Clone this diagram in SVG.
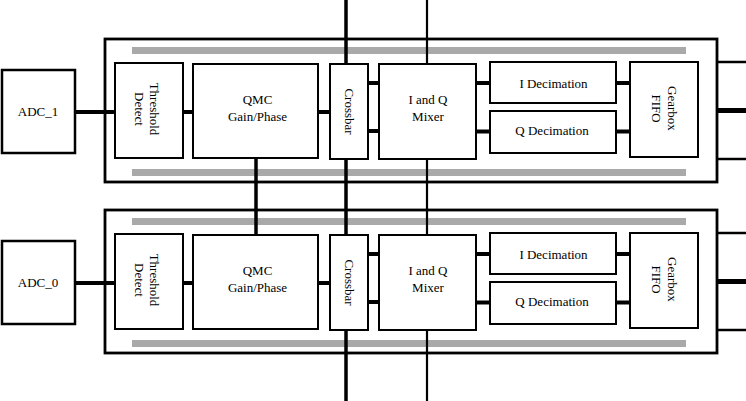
<svg xmlns="http://www.w3.org/2000/svg" width="746" height="401" viewBox="0 0 746 401">
<style>
.box{fill:#fff;stroke:#000;stroke-width:2}
.adc{fill:#fff;stroke:#000;stroke-width:2.5}
.cont{fill:#fff;stroke:#000;stroke-width:2.8}
.bar{fill:#a9a9a9}
.w{stroke:#000;stroke-width:4;fill:none}
.t{stroke:#000;stroke-width:2.5;fill:none}
.k{stroke:#000;stroke-width:5;fill:none}
.v{stroke:#000;stroke-width:3.5;fill:none}
.v2{stroke:#000;stroke-width:2.2;fill:none}
text{font-family:"Liberation Serif","Times New Roman",serif;font-size:13px;fill:#000;text-anchor:middle}
</style>
<rect width="746" height="401" fill="#fff"/>
<g id="containers">
<rect class="cont" x="105" y="39" width="612" height="143"/>
<rect class="bar" x="132" y="47" width="554" height="7"/>
<rect class="bar" x="132" y="169" width="554" height="7"/>
<rect class="cont" x="105" y="210" width="612" height="143"/>
<rect class="bar" x="132" y="218" width="554" height="7"/>
<rect class="bar" x="132" y="340" width="554" height="7"/>
</g>
<g id="connectors">
<line class="v" x1="346" y1="0" x2="346" y2="401"/>
<line class="v2" x1="427" y1="0" x2="427" y2="401"/>
<line class="v" x1="256" y1="158" x2="256" y2="235"/>
<line class="w" x1="75" y1="112" x2="115" y2="112"/>
<line class="w" x1="183" y1="112" x2="193" y2="112"/>
<line class="w" x1="318" y1="112" x2="330" y2="112"/>
<line class="w" x1="368" y1="83" x2="379" y2="83"/>
<line class="w" x1="368" y1="131" x2="379" y2="131"/>
<line class="w" x1="476" y1="83" x2="490" y2="83"/>
<line class="w" x1="476" y1="131.5" x2="490" y2="131.5"/>
<line class="w" x1="616" y1="83" x2="630" y2="83"/>
<line class="w" x1="616" y1="131.5" x2="630" y2="131.5"/>
<line class="t" x1="717" y1="62" x2="746" y2="62"/>
<line class="k" x1="717" y1="110.5" x2="746" y2="110.5"/>
<line class="t" x1="717" y1="159" x2="746" y2="159"/>
<line class="w" x1="75" y1="283" x2="115" y2="283"/>
<line class="w" x1="183" y1="283" x2="193" y2="283"/>
<line class="w" x1="318" y1="283" x2="330" y2="283"/>
<line class="w" x1="368" y1="254" x2="379" y2="254"/>
<line class="w" x1="368" y1="302" x2="379" y2="302"/>
<line class="w" x1="476" y1="254" x2="490" y2="254"/>
<line class="w" x1="476" y1="302.5" x2="490" y2="302.5"/>
<line class="w" x1="616" y1="254" x2="630" y2="254"/>
<line class="w" x1="616" y1="302.5" x2="630" y2="302.5"/>
<line class="t" x1="717" y1="233" x2="746" y2="233"/>
<line class="k" x1="717" y1="281.5" x2="746" y2="281.5"/>
<line class="t" x1="717" y1="330" x2="746" y2="330"/>
</g>
<g id="adc1"><rect class="adc" x="2" y="70" width="73" height="83"/><text x="38" y="116">ADC_1</text></g>
<g id="threshold1"><rect class="box" x="115" y="63" width="68" height="95"/><text transform="rotate(90,150,109)" x="150" y="109">Threshold</text><text transform="rotate(90,134.5,109)" x="134.5" y="109">Detect</text></g>
<g id="qmc1"><rect class="box" x="193" y="64" width="125" height="94"/><text x="257.5" y="104">QMC</text><text x="257.5" y="120.5">Gain/Phase</text></g>
<g id="crossbar1"><rect class="box" x="330" y="64" width="38" height="95"/><text transform="rotate(90,345,111.5)" x="345" y="111.5">Crossbar</text></g>
<g id="mixer1"><rect class="box" x="379" y="64" width="97" height="95"/><text x="428" y="104">I and Q</text><text x="428" y="120.5">Mixer</text></g>
<g id="idec1"><rect class="box" x="490" y="62" width="126" height="41"/><text x="553.5" y="87.5">I Decimation</text></g>
<g id="qdec1"><rect class="box" x="490" y="111" width="126" height="42"/><text x="552" y="134.5">Q Decimation</text></g>
<g id="gearbox1"><rect class="box" x="630" y="62" width="68" height="95"/><text transform="rotate(90,668,108.5)" x="668" y="108.5">Gearbox</text><text transform="rotate(90,652.3,108.5)" x="652.3" y="108.5">FIFO</text></g>
<g id="adc0"><rect class="adc" x="2" y="241" width="73" height="83"/><text x="38" y="287">ADC_0</text></g>
<g id="threshold0"><rect class="box" x="115" y="234" width="68" height="95"/><text transform="rotate(90,150,280)" x="150" y="280">Threshold</text><text transform="rotate(90,134.5,280)" x="134.5" y="280">Detect</text></g>
<g id="qmc0"><rect class="box" x="193" y="235" width="125" height="94"/><text x="257.5" y="275">QMC</text><text x="257.5" y="291.5">Gain/Phase</text></g>
<g id="crossbar0"><rect class="box" x="330" y="235" width="38" height="95"/><text transform="rotate(90,345,282.5)" x="345" y="282.5">Crossbar</text></g>
<g id="mixer0"><rect class="box" x="379" y="235" width="97" height="95"/><text x="428" y="275">I and Q</text><text x="428" y="291.5">Mixer</text></g>
<g id="idec0"><rect class="box" x="490" y="233" width="126" height="41"/><text x="553.5" y="258.5">I Decimation</text></g>
<g id="qdec0"><rect class="box" x="490" y="282" width="126" height="42"/><text x="552" y="305.5">Q Decimation</text></g>
<g id="gearbox0"><rect class="box" x="630" y="233" width="68" height="95"/><text transform="rotate(90,668,279.5)" x="668" y="279.5">Gearbox</text><text transform="rotate(90,652.3,279.5)" x="652.3" y="279.5">FIFO</text></g>
</svg>
